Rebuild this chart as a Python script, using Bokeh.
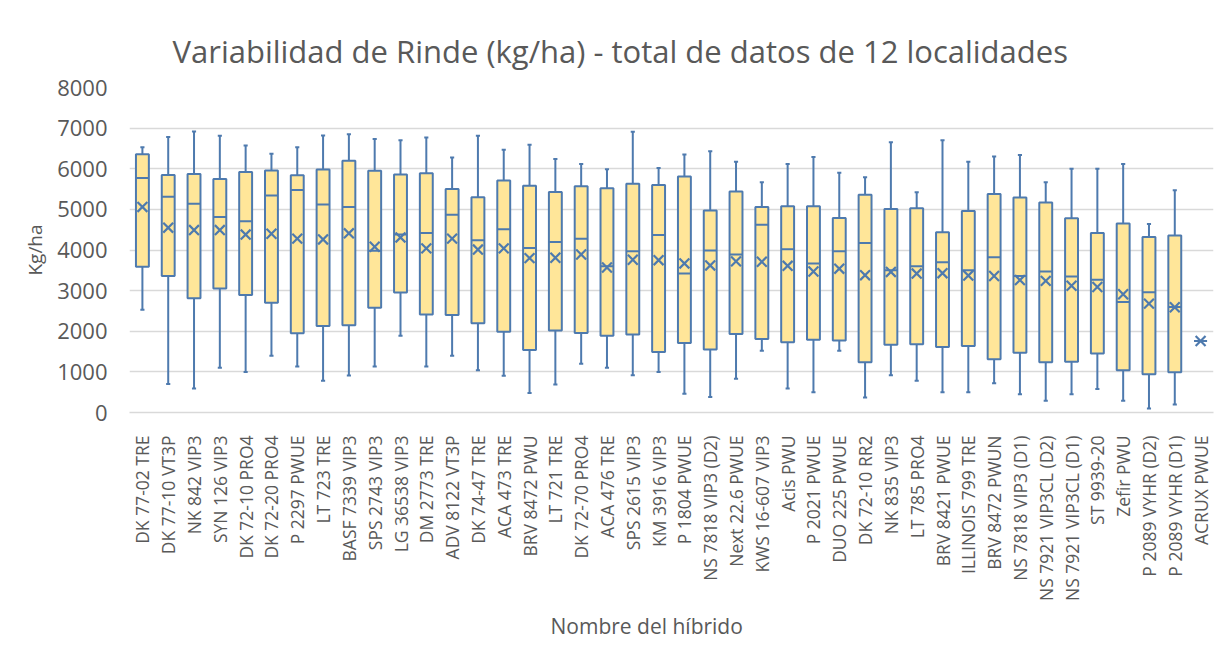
import numpy as np
from math import pi
from bokeh.plotting import figure
from bokeh.models import FixedTicker, Range1d, Title
from bokeh.embed import file_html
from bokeh.resources import INLINE

hybrids = ["DK 77-02 TRE", "DK 77-10 VT3P", "NK 842 VIP3", "SYN 126 VIP3", "DK 72-10 PRO4",
           "DK 72-20 PRO4", "P 2297 PWUE", "LT 723 TRE", "BASF 7339 VIP3", "SPS 2743 VIP3",
           "LG 36538 VIP3", "DM 2773 TRE", "ADV 8122 VT3P", "DK 74-47 TRE", "ACA 473 TRE",
           "BRV 8472 PWU", "LT 721 TRE", "DK 72-70 PRO4", "ACA 476 TRE", "SPS 2615 VIP3",
           "KM 3916 VIP3", "P 1804 PWUE", "NS 7818 VIP3 (D2)", "Next 22.6 PWUE", "KWS 16-607 VIP3",
           "Acis PWU", "P 2021 PWUE", "DUO 225 PWUE", "DK 72-10 RR2", "NK 835 VIP3",
           "LT 785 PRO4", "BRV 8421 PWUE", "ILLINOIS 799 TRE", "BRV 8472 PWUN", "NS 7818 VIP3 (D1)",
           "NS 7921 VIP3CL (D2)", "NS 7921 VIP3CL (D1)", "ST 9939-20", "Zefir PWU", "P 2089 VYHR (D2)",
           "P 2089 VYHR (D1)", "ACRUX PWUE"]

max_v = [6530, 6780, 6920, 6810, 6570, 6370, 6530, 6820, 6850, 6730,
         6700, 6770, 6280, 6810, 6470, 6590, 6240, 6120, 5990, 6910,
         6020, 6350, 6430, 6170, 5670, 6120, 6290, 5900, 5790, 6650,
         5420, 6700, 6170, 6300, 6340, 5670, 6000, 6000, 6120, 4640,
         5470, 1760]
q3 = [6360, 5845, 5870, 5750, 5920, 5960, 5840, 5980, 6200, 5950,
      5860, 5890, 5500, 5300, 5710, 5580, 5430, 5570, 5520, 5630,
      5600, 5810, 4970, 5440, 5060, 5080, 5080, 4790, 5360, 5010,
      5030, 4440, 4960, 5380, 5290, 5170, 4780, 4420, 4650, 4320,
      4360, 1760]
median = [5770, 5310, 5140, 4810, 4710, 5340, 5480, 5120, 5060, 3980,
          4380, 4420, 4870, 4240, 4510, 4050, 4200, 4280, 3600, 3970,
          4370, 3420, 3990, 3890, 4620, 4020, 3670, 3970, 4170, 3500,
          3600, 3700, 3500, 3820, 3360, 3470, 3350, 3270, 2720, 2960,
          2600, 1760]
mean = [5060, 4550, 4490, 4490, 4380, 4400, 4280, 4260, 4410, 4080,
        4310, 4040, 4280, 4010, 4040, 3800, 3810, 3890, 3570, 3760,
        3750, 3670, 3620, 3720, 3710, 3610, 3470, 3540, 3380, 3460,
        3420, 3430, 3370, 3360, 3260, 3240, 3120, 3090, 2910, 2680,
        2590, 1760]
q1 = [3590, 3360, 2810, 3050, 2890, 2700, 1950, 2130, 2150, 2580,
      2955, 2410, 2400, 2200, 1990, 1540, 2020, 1960, 1890, 1920,
      1490, 1710, 1550, 1930, 1810, 1730, 1790, 1770, 1240, 1670,
      1680, 1610, 1640, 1310, 1470, 1240, 1250, 1450, 1040, 940,
      990, 1760]
min_v = [2530, 700, 590, 1100, 1000, 1400, 1130, 780, 910, 1130,
         1890, 1130, 1400, 1040, 906, 480, 690, 1200, 1100, 914,
         1000, 460, 380, 830, 1520, 590, 500, 1520, 370, 920,
         780, 500, 500, 720, 450, 290, 450, 580, 290, 100,
         200, 1760]

y_ticks = [0, 1000, 2000, 3000, 4000, 5000, 6000, 7000, 8000]

BLUE = "#4E7AAE"
FILL = "#FFE699"
GREY = "#595959"
GRID = "#D9D9D9"
FONT = "Open Sans"

xs = np.arange(1, len(hybrids) + 1)

p = figure(width=1223, height=645, output_backend="svg", toolbar_location=None,
           x_range=Range1d(0.5, len(hybrids) + 0.5), y_range=Range1d(0, 8000),
           min_border_left=129, min_border_right=10, min_border_top=87, min_border_bottom=231)
p.outline_line_color = None
p.background_fill_color = "white"
p.border_fill_color = "white"

p.title = Title(text="Variabilidad de Rinde (kg/ha) - total de datos de 12 localidades",
                align="left", text_font=FONT, text_font_size="31px", text_font_style="normal",
                text_color=GREY, offset=43, standoff=32)

# whiskers
p.segment(x0=xs, y0=q3, x1=xs, y1=max_v, line_color=BLUE, line_width=2)
p.segment(x0=xs, y0=min_v, x1=xs, y1=q1, line_color=BLUE, line_width=2)
p.segment(x0=xs - 0.08, y0=max_v, x1=xs + 0.08, y1=max_v, line_color=BLUE, line_width=2)
p.segment(x0=xs - 0.08, y0=min_v, x1=xs + 0.08, y1=min_v, line_color=BLUE, line_width=2)
# boxes
p.vbar(x=xs, width=0.5, bottom=q1, top=q3, fill_color=FILL, line_color=BLUE, line_width=2)
# medians
p.segment(x0=xs - 0.25, y0=median, x1=xs + 0.25, y1=median, line_color=BLUE, line_width=2)
# means
p.scatter(x=xs, y=mean, marker="x", size=14, line_color=BLUE, line_width=2.2)

p.xgrid.grid_line_color = None
p.ygrid.grid_line_color = GRID
p.ygrid.grid_line_width = 1.3

p.yaxis.ticker = FixedTicker(ticks=y_ticks)
p.yaxis.major_label_text_font = FONT
p.yaxis.major_label_text_font_size = "22px"
p.yaxis.major_label_text_color = GREY
p.yaxis.major_tick_line_color = None
p.yaxis.minor_tick_line_color = None
p.yaxis.axis_line_color = None
p.yaxis.major_label_standoff = 16
p.yaxis.axis_label = "Kg/ha"
p.yaxis.axis_label_text_font = FONT
p.yaxis.axis_label_text_font_size = "19px"
p.yaxis.axis_label_text_font_style = "normal"
p.yaxis.axis_label_text_color = GREY
p.yaxis.axis_label_standoff = 6

p.xaxis.ticker = FixedTicker(ticks=list(xs))
p.xaxis.major_label_overrides = {int(i): h for i, h in zip(xs, hybrids)}
p.xaxis.major_label_orientation = pi / 2
p.xaxis.major_label_text_font = FONT
p.xaxis.major_label_text_font_size = "17.5px"
p.xaxis.major_label_text_color = GREY
p.xaxis.major_tick_line_color = None
p.xaxis.minor_tick_line_color = None
p.xaxis.axis_line_color = GRID
p.xaxis.axis_line_width = 1.3
p.xaxis.major_label_standoff = 17

p.add_layout(Title(text="Nombre del híbrido", align="left", offset=421, text_font=FONT,
                   text_font_size="21px", text_font_style="normal", text_color=GREY,
                   standoff=12), "below")

open("out.html", "w").write(file_html(p, INLINE))
